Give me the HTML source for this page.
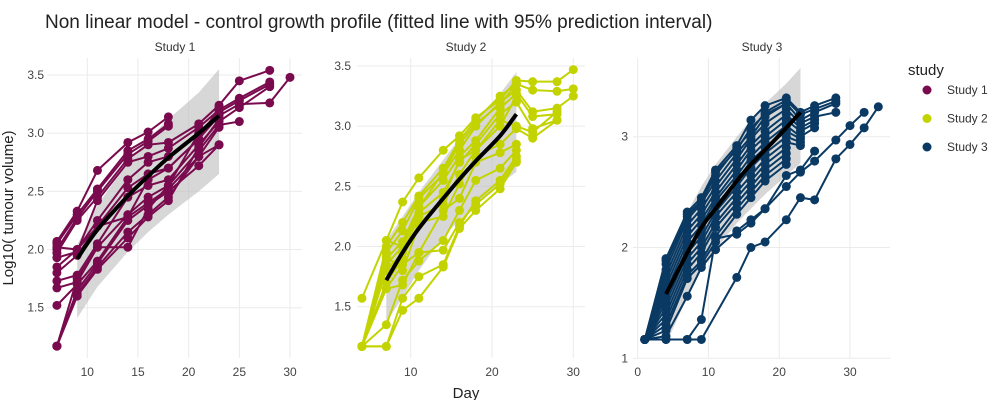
<!DOCTYPE html>
<html><head><meta charset="utf-8"><style>
body{margin:0;background:#fff;font-family:"Liberation Sans","DejaVu Sans",sans-serif}
svg text{font-family:"Liberation Sans","DejaVu Sans",sans-serif}
</style></head><body>
<svg id="chart" width="1004" height="400" xmlns="http://www.w3.org/2000/svg">
<text x="45" y="28" font-size="19" fill="#222">Non linear model - control growth profile (fitted line with 95% prediction interval)</text>
<text transform="translate(13,208) rotate(-90)" text-anchor="middle" font-size="15" fill="#222">Log10( tumour volume)</text>
<text x="466" y="398" text-anchor="middle" font-size="15" fill="#222">Day</text>
<text x="908" y="75" font-size="15" fill="#222">study</text>
<g id="legend"></g>
<g id="panels"></g>
</svg>
<script>
// ---- data ----
const studyNames = ["Study 1","Study 2","Study 3"];
const studyColors = ["#790a4e","#c3d300","#0a3a63"];
const days1 = [7,9,11,14,16,18,21,23,25,28,30];
const subjects1 = [
[2.07,2.33,2.68,2.92,3.01,3.14],
[2.05,2.30,2.52,2.85,2.95,3.08],
[2.0,2.27,2.50,2.82,2.93,3.06],
[1.97,2.25,2.45,2.78,2.90,2.92,3.08,3.24,3.45,3.54],
[1.93,1.98,2.42,2.75,2.80,2.87,3.05,3.20,3.30,3.44],
[1.85,2.0,2.25,2.60,2.75,2.80,3.0,3.18,3.28,3.42],
[1.80,1.95,2.20,2.53,2.65,2.70,2.95,3.15,3.25,3.26,3.48],
[1.73,1.78,2.05,2.45,2.55,2.60,2.90,3.10,3.22,3.40],
[1.67,1.72,2.02,2.30,2.45,2.55,2.85,3.07,3.10],
[1.52,1.70,1.90,2.28,2.40,2.52,2.80,2.90],
[1.17,1.65,1.88,2.25,2.38,2.50,2.72,2.90],
[1.17,1.62,1.85,2.15,2.30,2.45,2.80,3.05],
[1.17,1.60,1.83,2.10,2.28,2.42,2.88,3.12],
[1.17,1.75,2.02,2.02,2.35,2.55,3.0,3.16],
[2.02,2.0,2.20,2.28,2.60,2.70,2.95,3.22]
];
const fitDays1 = [9,11,14,16,18,21,23];
const fit1 = [1.92,2.17,2.46,2.63,2.79,3.0,3.15];
const upper1 = [2.04,2.38,2.75,2.95,3.12,3.35,3.55];
const lower1 = [1.41,1.68,1.98,2.15,2.30,2.50,2.65];

const days2 = [4,7,9,11,14,16,18,21,23,25,28,30];
const subjects2 = [
[1.57,2.05,2.37,2.57,2.80,2.92,3.07,3.22,3.38,3.37,3.37,3.47],
[1.17,2.0,2.2,2.42,2.65,2.88,3.05,3.25,3.35,3.30,3.29,3.31],
[1.17,1.95,2.13,2.40,2.60,2.80,3.0,3.2,3.3,3.12,3.15,3.25],
[1.17,1.9,2.04,2.33,2.55,2.75,2.88,3.15,3.27,3.08,3.10],
[1.17,1.85,2.0,2.28,2.45,2.70,2.85,3.10,3.2,2.98,3.05],
[1.17,1.80,1.95,2.25,2.35,2.60,2.80,3.05,3.0,2.95,3.12],
[1.17,1.70,1.90,2.20,2.25,2.52,2.75,2.85,2.98,2.90,3.05],
[1.17,1.65,1.85,1.95,2.30,2.40,2.70,2.78,2.85],
[1.17,1.35,1.72,1.88,2.05,2.30,2.55,2.65,2.80],
[1.17,1.17,1.57,1.75,1.85,2.17,2.38,2.55,2.75],
[1.17,1.17,1.47,1.57,1.83,2.15,2.30,2.48,2.70],
[1.17,1.65,1.68,1.95,1.97,2.20,2.35,2.52,2.72],
[null,2.05,2.0,2.32,2.62,2.85,3.02,3.18,3.35],
[null,1.92,1.80,2.18,2.40,2.72,2.80,3.0,3.25]
];
const fitDays2 = [7,9,11,14,16,18,21,23];
const fit2 = [1.72,1.95,2.15,2.40,2.56,2.71,2.92,3.10];
const upper2 = [2.05,2.25,2.45,2.72,2.90,3.05,3.27,3.45];
const lower2 = [1.37,1.58,1.80,2.08,2.22,2.35,2.52,2.62];

const days3 = [1,4,7,9,11,14,16,18,21,23,25,28,30,32,34];
const subjects3 = [
[1.17,1.90,2.32,2.45,2.70,2.92,3.15,3.28,3.35,3.22,3.28,3.35],
[1.17,1.85,2.28,2.42,2.65,2.90,3.05,3.22,3.33,3.20,3.25,3.32],
[1.17,1.80,2.25,2.40,2.60,2.85,3.00,3.18,3.30,3.15,3.22,3.30],
[1.17,1.75,2.20,2.35,2.55,2.80,2.98,3.12,3.25,3.12,3.18,3.22],
[1.17,1.70,2.15,2.30,2.50,2.75,2.92,3.05,3.20,3.08,3.15],
[1.17,1.65,2.10,2.25,2.45,2.70,2.88,3.00,3.15,3.05,3.12],
[1.17,1.60,2.05,2.20,2.42,2.65,2.82,2.95,3.10,3.00,3.08],
[1.17,1.55,2.00,2.15,2.38,2.60,2.78,2.90,3.05,2.98],
[1.17,1.50,1.95,2.10,2.32,2.55,2.72,2.85,3.00,2.95],
[1.17,1.45,1.90,2.05,2.28,2.50,2.65,2.80,2.95,2.92],
[1.17,1.40,1.85,2.00,2.22,2.45,2.60,2.75,2.90],
[1.17,1.35,1.80,1.95,2.18,2.40,2.55,2.70,2.85],
[1.17,1.30,1.75,1.88,2.10,2.35,2.50,2.65,2.80],
[1.17,1.25,1.72,1.85,2.05,2.30,2.45,2.60,2.75],
[1.17,1.20,1.56,1.82,1.98,2.15,2.25,2.35,2.65,2.70,2.87],
[1.17,1.17,1.17,1.35,2.08,2.12,2.22,2.35,2.55,2.68,2.78,2.97,3.10,3.22,null],
[1.17,1.17,1.17,1.17,null,1.73,2.00,2.05,2.25,2.45,2.43,2.80,2.93,3.08,3.27],
[1.17,1.88,2.30,2.42,2.68,2.88,3.08,3.20,3.30]
];
const fitDays3 = [4,7,9,11,14,16,18,21,23];
const fit3 = [1.58,1.95,2.18,2.35,2.60,2.75,2.88,3.08,3.22];
const upper3 = [1.92,2.32,2.55,2.75,3.00,3.15,3.30,3.48,3.62];
const lower3 = [1.13,1.55,1.80,1.98,2.22,2.35,2.48,2.65,2.76];

// ---- layout ----
const NS="http://www.w3.org/2000/svg";
function el(tag,attrs,parent){const e=document.createElementNS(NS,tag);for(const k in attrs)e.setAttribute(k,attrs[k]);parent.appendChild(e);return e;}
function smooth(pts){
 let d='M'+pts[0][0]+','+pts[0][1];
 for(let i=0;i<pts.length-1;i++){
  const p0=pts[Math.max(0,i-1)],p1=pts[i],p2=pts[i+1],p3=pts[Math.min(pts.length-1,i+2)];
  const c1=[p1[0]+(p2[0]-p0[0])/6,p1[1]+(p2[1]-p0[1])/6];
  const c2=[p2[0]-(p3[0]-p1[0])/6,p2[1]-(p3[1]-p1[1])/6];
  d+='C'+c1+' '+c2+' '+p2;
 }
 return d;
}
const panels=[
 {days:days1,subs:subjects1,fd:fitDays1,fit:fit1,up:upper1,lo:lower1,x0:10,px0:87.3,x1:30,px1:290,y0:1.5,py0:307.7,y1:3.5,py1:75,left:47,right:302,xt:[10,15,20,25,30],yt:[1.5,2,2.5,3,3.5],yfmt:1,title:"Study 1",tx:175,labx:44},
 {days:days2,subs:subjects2,fd:fitDays2,fit:fit2,up:upper2,lo:lower2,x0:10,px0:410.7,x1:30,px1:573.3,y0:1.5,py0:306.7,y1:3.5,py1:66,left:357,right:585,xt:[10,20,30],yt:[1.5,2,2.5,3,3.5],yfmt:1,title:"Study 2",tx:466,labx:351},
 {days:days3,subs:subjects3,fd:fitDays3,fit:fit3,up:upper3,lo:lower3,x0:0,px0:637.7,x1:30,px1:850,y0:1,py0:358.3,y1:3,py1:136.7,left:633,right:890,xt:[0,10,20,30],yt:[1,2,3],yfmt:0,title:"Study 3",tx:762,labx:628}
];
const root=document.getElementById('panels');
panels.forEach((p,i)=>{
 const X=v=>p.px0+(v-p.x0)*(p.px1-p.px0)/(p.x1-p.x0);
 const Y=v=>p.py0+(v-p.y0)*(p.py1-p.py0)/(p.y1-p.y0);
 const g=el('g',{},root);
 
 
 const t=el('text',{x:p.tx,y:51,'text-anchor':'middle','font-size':12,fill:'#333'},g);t.textContent=p.title;
 
 
 p.xt.forEach(v=>{const l=el('line',{x1:X(v),x2:X(v),y1:58,y2:358,stroke:'#ebebeb'},g);
  
  
  const tt=el('text',{x:X(v),y:376,'text-anchor':'middle','font-size':12,fill:'#444'},g);tt.textContent=v;
  
  });
 p.yt.forEach(v=>{const l=el('line',{x1:p.left,x2:p.right,y1:Y(v),y2:Y(v),stroke:'#ebebeb'},g);
  
  
  const tt=el('text',{x:p.labx,y:Y(v)+4,'text-anchor':'end','font-size':12,fill:'#444'},g);tt.textContent=v.toFixed(p.yfmt);
  
  });
 let d='';p.fd.forEach((v,k)=>{d+=(k?'L':'M')+X(v)+','+Y(p.up[k]);});
 for(let k=p.fd.length-1;k>=0;k--)d+='L'+X(p.fd[k])+','+Y(p.lo[k]);
 const band=el('path',{d:d+'Z',fill:'#bdbdbd','fill-opacity':0.6},g);
 
 
 p.subs.forEach((s,si)=>{
  let pd='',pts=[];
  s.forEach((v,k)=>{if(v==null)return;pd+=(pd?'L':'M')+X(p.days[k])+','+Y(v);pts.push([X(p.days[k]),Y(v)]);});
  const ln=el('path',{d:pd,fill:'none',stroke:studyColors[i],'stroke-width':2},g);
  
  
  pts.forEach(q=>{const c=el('circle',{cx:q[0],cy:q[1],r:4.5,fill:studyColors[i]},g);
   
   });
 });
 const fpts=p.fd.map((v,k)=>[X(v),Y(p.fit[k])]);
 const fl=el('path',{d:smooth(fpts),fill:'none',stroke:'#000','stroke-width':4,'stroke-linejoin':'round'},g);
 
 
});
const lg=document.getElementById('legend');
studyNames.forEach((n,i)=>{
 const y=90+i*28.5;
 const c=el('circle',{cx:927,cy:y,r:4.5,fill:studyColors[i]},lg);
 
 
 const t=el('text',{x:947,y:y+4,'font-size':12,fill:'#333'},lg);t.textContent=n;
 
 
});
</script>
</body></html>
